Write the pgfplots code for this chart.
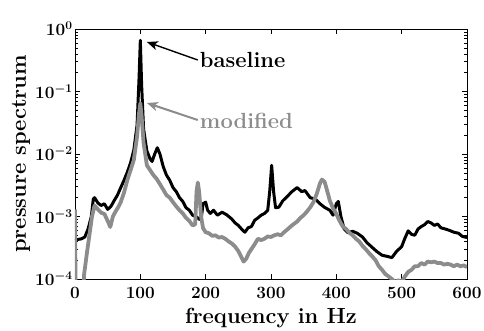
\documentclass[border=0pt]{standalone}
\usepackage{pgfplots}
\pgfplotsset{compat=1.18}
\usetikzlibrary{arrows.meta}
\definecolor{modgray}{RGB}{140,140,140}
\begin{document}
\begin{tikzpicture}
\begin{axis}[
  scale only axis, width=392bp, height=250bp,
  ymode=log, xmin=0, xmax=600, ymin=1e-4, ymax=1,
  xtick={0,100,...,600},
  ytick={1e-4,1e-3,1e-2,1e-1,1},
  tick align=inside,
  major tick length=5bp, minor tick length=3bp,
  axis line style={line width=0.8pt},
  every tick/.style={line width=0.6pt, black},
  xlabel={frequency in Hz}, ylabel={pressure spectrum},
  every axis x label/.style={at={(axis description cs:0.5,-0.156)}, anchor=center},
  every axis y label/.style={at={(axis description cs:-0.1378,0.5)}, anchor=center, rotate=90},
  tick label style={font=\fontsize{17.5}{21}\selectfont\bfseries\boldmath},
  xticklabel style={yshift=-5bp},
  yticklabel style={xshift=1bp},
  label style={font=\fontsize{22}{26}\selectfont\bfseries},
  clip=true,
]
\addplot[black, line width=3pt, line join=round] coordinates {
(0,4.2e-4)(5,4.3e-4)(10,4.4e-4)(15,4.7e-4)(20,6.3e-4)(25,1.0e-3)(28,1.9e-3)(30,2.0e-3)
(35,1.65e-3)(40,1.5e-3)(45,1.6e-3)(50,1.3e-3)(55,1.45e-3)(60,1.8e-3)(65,2.2e-3)(70,2.9e-3)
(75,3.8e-3)(80,5.1e-3)(85,7.2e-3)(90,1.15e-2)(95,2.9e-2)(98,0.16)(100,0.66)(102,0.126)
(105,0.025)(110,1.12e-2)(115,8.3e-3)(118,7.6e-3)(122,1.0e-2)(126,1.26e-2)(130,1.0e-2)
(135,6.3e-3)(140,4.6e-3)(145,3.8e-3)(150,2.9e-3)(155,2.5e-3)(160,2.0e-3)(165,1.74e-3)
(170,1.38e-3)(175,1.26e-3)(180,1.05e-3)(185,1.0e-3)(190,9.1e-4)(193,8.9e-4)(196,1.6e-3)
(200,1.7e-3)(203,1.26e-3)(207,1.12e-3)(212,1.26e-3)(218,1.05e-3)(225,1.17e-3)(232,1.07e-3)
(240,9.1e-4)(245,7.9e-4)(250,7.2e-4)(255,6.3e-4)(260,5.6e-4)(265,6.6e-4)(270,6.9e-4)
(275,8.7e-4)(280,9.5e-4)(285,1.05e-3)(290,1.12e-3)(295,1.26e-3)(298,2.5e-3)(301,6.6e-3)
(304,2.5e-3)(307,1.38e-3)(312,1.41e-3)(318,1.78e-3)(325,2.1e-3)(332,2.5e-3)(340,2.9e-3)
(347,2.5e-3)(352,2.6e-3)(360,2.0e-3)(368,1.9e-3)(375,1.6e-3)(382,1.4e-3)(390,1.26e-3)
(395,1.05e-3)(400,1.6e-3)(403,1.74e-3)(407,1.0e-3)(412,6.3e-4)(418,5.5e-4)(425,5.8e-4)
(432,5.4e-4)(440,4.7e-4)(447,3.8e-4)(455,3.2e-4)(462,2.75e-4)(470,2.4e-4)(478,2.3e-4)
(485,2.2e-4)(492,2.75e-4)(500,3.3e-4)(505,4.5e-4)(510,5.9e-4)(515,5.2e-4)(520,5.0e-4)
(525,6.3e-4)(530,6.9e-4)(535,7.4e-4)(540,8.3e-4)(545,7.9e-4)(550,7.2e-4)(555,7.6e-4)
(560,6.6e-4)(567,6.3e-4)(573,6.0e-4)(580,5.6e-4)(587,5.4e-4)(593,4.8e-4)(600,4.6e-4)
};
\addplot[modgray, line width=3.8pt, line join=round] coordinates {
(0,1.3e-3)(1,5e-5)(12,5e-5)(14,1.2e-4)(18,2.5e-4)(22,5e-4)(26,1.0e-3)(30,1.5e-3)
(35,1.3e-3)(40,1.15e-3)(45,1.1e-3)(50,8.5e-4)(54,6.8e-4)(58,1.0e-3)(62,1.2e-3)(66,1.4e-3)
(70,1.7e-3)(75,2.4e-3)(80,3.8e-3)(85,5.5e-3)(90,8e-3)(95,1.9e-2)(98,4.5e-2)(100,6.5e-2)
(102,4e-2)(105,1.5e-2)(110,6.6e-3)(115,5.5e-3)(120,4.6e-3)(125,4.0e-3)(130,3.3e-3)
(135,2.7e-3)(140,2.2e-3)(145,2.0e-3)(150,1.7e-3)(155,1.45e-3)(160,1.26e-3)(165,1.12e-3)
(170,9.5e-4)(175,8.5e-4)(180,7.2e-4)(184,7.5e-4)(186,2.5e-3)(188,3.5e-3)(190,2.5e-3)
(193,1.0e-3)(196,6.5e-4)(200,5.6e-4)(205,5.4e-4)(210,4.9e-4)(215,5.0e-4)(220,4.6e-4)
(225,4.7e-4)(230,4.4e-4)(235,4.0e-4)(240,3.7e-4)(245,3.3e-4)(250,2.8e-4)(255,2.2e-4)
(258,1.9e-4)(262,2.1e-4)(266,2.6e-4)(270,3.0e-4)(275,3.6e-4)(280,4.4e-4)(285,4.2e-4)
(290,4.4e-4)(295,4.8e-4)(300,4.7e-4)(305,5.0e-4)(310,5.2e-4)(315,5.0e-4)(320,5.6e-4)
(325,6.2e-4)(330,6.9e-4)(335,7.6e-4)(340,8.3e-4)(345,9.5e-4)(350,1.05e-3)(355,1.2e-3)
(360,1.4e-3)(365,1.7e-3)(370,2.3e-3)(375,3.4e-3)(378,3.9e-3)(382,3.6e-3)(385,2.8e-3)
(390,1.8e-3)(395,1.35e-3)(400,1.1e-3)(405,8.5e-4)(410,6.9e-4)(415,6.3e-4)(420,5.5e-4)
(425,5.0e-4)(430,4.4e-4)(435,4.0e-4)(440,3.4e-4)(445,3.0e-4)(450,2.6e-4)(455,2.3e-4)
(460,2.0e-4)(465,1.6e-4)(470,1.4e-4)(475,1.2e-4)(480,1.1e-4)(485,1.0e-4)(490,9e-5)
(495,9.5e-5)(500,9e-5)(505,1.1e-4)(510,1.3e-4)(515,1.4e-4)(520,1.6e-4)(525,1.6e-4)
(530,1.8e-4)(535,1.7e-4)(540,1.9e-4)(545,1.85e-4)(550,1.9e-4)(555,1.8e-4)(560,1.8e-4)
(565,1.7e-4)(570,1.75e-4)(575,1.7e-4)(580,1.6e-4)(585,1.7e-4)(590,1.6e-4)(595,1.65e-4)
(600,1.55e-4)
};
\draw[-{Stealth[length=11bp,width=9bp,inset=3bp]}, black, line width=1.4pt] (axis cs:188,0.319) -- (axis cs:110,0.62);
\node[anchor=base west, black, inner sep=0pt, font=\fontsize{22}{26}\selectfont\bfseries] at (axis cs:191,0.238) {baseline};
\draw[-{Stealth[length=11bp,width=9bp,inset=3bp]}, modgray, line width=2pt] (axis cs:188,0.035) -- (axis cs:110,0.0655);
\node[anchor=base west, modgray, inner sep=0pt, font=\fontsize{22}{26}\selectfont\bfseries] at (axis cs:191,0.026) {modified};
\end{axis}
\pgfresetboundingbox
\useasboundingbox (-75bp,-52bp) rectangle (409bp,279bp);
\end{tikzpicture}
\end{document}
